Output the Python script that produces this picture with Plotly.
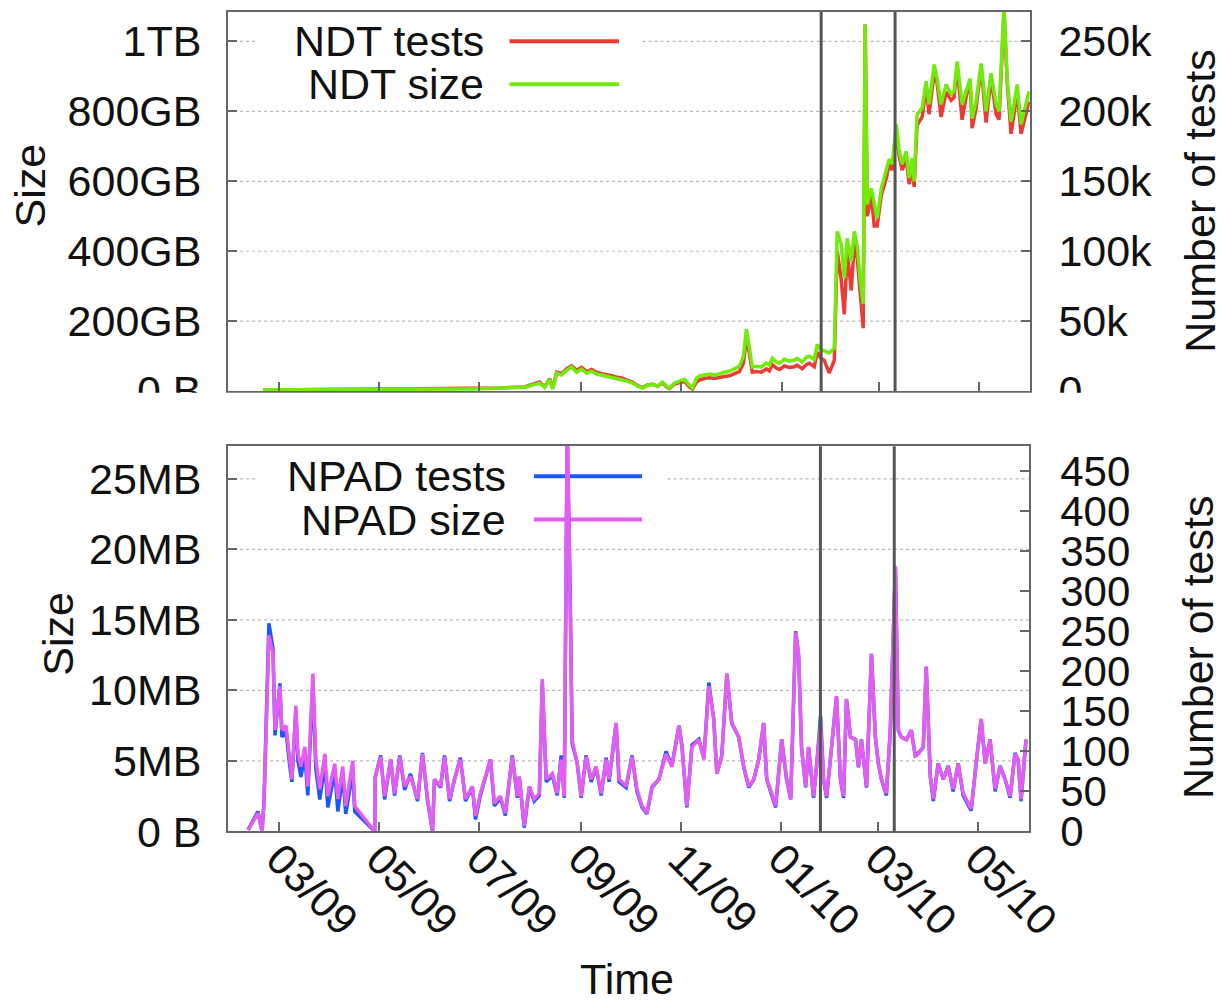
import pandas as pd
import plotly.graph_objects as go

BASE = pd.Timestamp("2009-03-01")

# ---------------- NDT (top panel) ----------------
ndt_day = [
    -9.7, 6.7, 24.9, 43.2, 61.4, 79.6, 97.9, 116.1, 134.3, 149.5,
    158.7, 161.7, 164.7, 166.6, 169.0, 172.0, 175.1, 178.1, 181.2, 184.2,
    187.2, 190.3, 193.3, 196.4, 199.4, 202.4, 205.5, 208.5, 211.6, 215.2,
    218.2, 221.3, 224.3, 227.4, 230.4, 233.4, 235.9, 237.7, 240.7, 243.8,
    246.8, 249.8, 251.7, 254.1, 255.9, 259.0, 262.0, 265.0, 268.1, 271.1,
    274.2, 277.2, 280.2, 282.7, 284.5, 286.3, 288.1, 290.6, 293.6, 296.7,
    298.5, 300.3, 302.7, 304.6, 307.6, 310.6, 313.7, 315.5, 318.5, 321.0,
    322.8, 325.8, 327.7, 329.5, 331.9, 334.9, 338.0, 339.8, 342.2, 344.1,
    345.9, 348.3, 350.2, 352.0, 353.8, 355.6, 356.8, 358.1, 360.5, 362.3,
    364.1, 366.6, 369.6, 371.4, 373.3, 375.7, 377.5, 379.3, 381.8, 383.6,
    385.4, 386.6, 388.4, 391.5, 393.9, 395.7, 398.8, 400.6, 403.0, 406.1,
    409.1, 410.9, 412.8, 415.8, 418.2, 420.7, 421.9, 424.3, 427.4, 430.4,
    433.4, 436.5, 438.3, 441.3, 443.2, 445.6, 447.4, 449.3, 451.7, 453.5,
    456.5,
]
ndt_size_gb = [
    3, 5, 5, 5, 6, 6, 6, 6, 9, 11,
    23, 11, 34, 6, 51, 46, 60, 69, 54, 63,
    51, 57, 49, 46, 43, 40, 37, 34, 29, 23,
    14, 9, 17, 20, 14, 26, 14, 9, 23, 29,
    34, 17, 9, 37, 43, 46, 49, 46, 51, 54,
    57, 63, 71, 100, 177, 123, 69, 71, 69, 80,
    74, 94, 83, 80, 91, 86, 89, 94, 83, 97,
    100, 91, 134, 120, 114, 109, 123, 457, 420, 323,
    437, 371, 457, 414, 320, 249, 1048, 534, 580, 534,
    494, 580, 629, 663, 649, 763, 686, 649, 686, 609,
    666, 600, 791, 809, 886, 820, 934, 894, 820, 877,
    849, 857, 943, 820, 857, 894, 780, 829, 937, 800,
    909, 820, 800, 1100, 894, 771, 820, 877, 763, 800,
    857,
]
ndt_tests_k = [
    0.7, 1.2, 1.2, 1.3, 1.5, 1.5, 1.6, 1.6, 2.3, 3.0,
    6.5, 3.2, 9.0, 2.0, 13.5, 12.5, 16.0, 18.0, 15.0, 17.0,
    14.0, 15.5, 13.5, 12.5, 12.0, 11.0, 10.0, 9.5, 8.0, 6.5,
    4.0, 2.5, 4.5, 5.0, 3.5, 6.0, 3.0, 2.0, 5.0, 6.0,
    7.0, 3.0, 1.5, 6.5, 8.0, 9.0, 9.5, 9.0, 10.0, 10.5,
    11.0, 12.5, 14.0, 20.0, 38.0, 27.0, 13.5, 14.0, 13.5, 16.0,
    14.5, 19.0, 16.5, 15.5, 18.0, 17.0, 17.5, 18.5, 16.0, 19.0,
    20.0, 17.5, 28.0, 24.0, 22.0, 13.0, 22.0, 100, 80, 55,
    100, 72, 105, 95, 72, 45, 262, 125, 140, 118,
    118, 140, 152, 162, 158, 185, 168, 158, 166, 148,
    162, 146, 190, 196, 218, 198, 228, 220, 196, 214,
    208, 210, 232, 194, 210, 222, 188, 202, 232, 192,
    224, 198, 194, 272, 222, 184, 198, 214, 184, 192,
    207,
]

# ---------------- NPAD (bottom panel) ----------------
npad_day = [
    -18.8, -12.8, -10.3, -9.1, -6.1, -3.6, -2.4, 0.6, 1.8, 4.3,
    6.7, 7.9, 10.3, 11.6, 13.4, 15.8, 17.6, 20.7, 22.5, 24.9,
    28.0, 29.8, 34.0, 35.9, 38.9, 40.7, 45.0, 46.2, 58.4, 58.7,
    62.0, 64.4, 68.1, 70.5, 73.6, 76.6, 80.2, 84.5, 87.5, 90.6,
    93.6, 94.8, 98.5, 100.9, 104.0, 107.0, 110.6, 113.7, 117.9, 119.8,
    122.8, 128.9, 131.3, 135.0, 138.0, 142.2, 145.3, 146.5, 149.5, 152.6,
    155.6, 158.7, 160.5, 162.9, 166.6, 169.6, 172.0, 173.9, 175.7, 177.5,
    178.7, 181.8, 184.2, 187.2, 190.3, 193.3, 196.4, 199.4, 201.2, 205.5,
    207.3, 211.6, 215.2, 218.2, 221.3, 224.3, 227.4, 231.6, 235.9, 239.5,
    243.8, 245.6, 248.6, 251.7, 255.9, 259.0, 262.0, 265.0, 266.9, 269.9,
    273.0, 276.0, 280.2, 283.3, 286.3, 289.4, 292.4, 295.4, 297.3, 300.3,
    302.7, 306.4, 309.4, 311.9, 314.9, 316.7, 318.5, 321.0, 322.8, 325.8,
    327.7, 330.1, 331.9, 333.8, 336.8, 339.8, 342.2, 344.1, 345.9, 348.3,
    351.4, 353.2, 355.0, 358.1, 361.1, 363.5, 365.3, 367.2, 370.2, 372.6,
    375.7, 377.5, 379.3, 382.4, 385.4, 387.8, 389.7, 392.7, 394.5, 397.0,
    398.8, 401.8, 404.9, 407.9, 410.9, 414.0, 417.0, 420.1, 421.9, 424.9,
    428.0, 430.4, 433.4, 436.5, 439.5, 442.6, 445.6, 448.6, 450.5, 452.3,
    455.3,
]
npad_size_mb = [
    0.1, 1.3, 0.0, 2.0, 13.9, 12.6, 7.2, 10.3, 7.2, 7.5,
    5.0, 3.7, 8.9, 5.5, 4.6, 6.0, 3.2, 11.2, 5.1, 3.0,
    5.5, 2.5, 4.8, 2.3, 4.6, 1.8, 5.0, 1.8, 0.0, 3.9,
    5.3, 2.5, 5.1, 2.7, 5.3, 3.2, 3.9, 2.3, 5.5, 2.3,
    0.0, 3.7, 3.2, 5.3, 2.3, 3.7, 5.1, 2.3, 3.2, 1.1,
    2.7, 5.1, 2.0, 2.5, 1.3, 5.3, 2.5, 3.9, 0.4, 3.2,
    2.3, 2.7, 10.8, 3.7, 4.1, 2.7, 5.1, 2.5, 30.0, 17.5,
    6.5, 4.8, 2.5, 5.3, 3.7, 4.6, 2.7, 5.1, 3.7, 7.7,
    3.7, 3.2, 5.3, 3.0, 1.8, 1.3, 3.2, 3.7, 5.5, 4.6,
    7.5, 6.0, 1.8, 6.0, 6.5, 5.1, 10.3, 8.0, 4.1, 5.3,
    11.2, 7.7, 6.7, 4.6, 3.2, 3.7, 5.1, 7.7, 3.7, 2.7,
    1.8, 6.5, 3.7, 2.3, 14.1, 12.6, 6.0, 3.2, 6.0, 2.5,
    4.6, 7.6, 3.7, 2.5, 6.0, 9.6, 3.7, 2.5, 9.4, 6.7,
    6.5, 4.6, 6.5, 3.2, 12.6, 6.7, 4.8, 3.7, 2.7, 7.2,
    18.8, 7.2, 6.7, 6.5, 7.2, 5.3, 5.5, 6.0, 11.7, 3.9,
    2.3, 4.8, 3.7, 4.6, 3.0, 4.8, 2.7, 2.0, 1.6, 4.8,
    8.0, 4.8, 6.5, 3.0, 4.6, 3.7, 2.5, 5.5, 5.1, 2.3,
    6.5,
]
npad_tests = [
    2, 25, 0, 38, 260, 228, 120, 185, 118, 125,
    80, 62, 150, 88, 68, 95, 45, 185, 78, 40,
    85, 30, 75, 25, 70, 22, 75, 25, 0, 68,
    95, 40, 90, 45, 95, 52, 72, 38, 98, 38,
    0, 65, 55, 95, 38, 65, 92, 38, 55, 15,
    45, 90, 32, 42, 20, 95, 42, 68, 5, 55,
    38, 45, 185, 62, 70, 45, 95, 42, 490, 300,
    110, 85, 42, 95, 62, 80, 45, 92, 62, 135,
    62, 55, 95, 50, 30, 22, 55, 65, 100, 82,
    132, 108, 30, 108, 115, 92, 186, 140, 72, 95,
    196, 135, 118, 80, 55, 65, 90, 135, 65, 45,
    30, 115, 65, 40, 250, 220, 105, 55, 105, 42,
    82, 145, 65, 42, 105, 168, 65, 42, 165, 118,
    115, 80, 115, 55, 222, 118, 85, 65, 45, 126,
    330, 126, 118, 115, 126, 95, 98, 105, 205, 68,
    38, 85, 65, 82, 50, 85, 45, 32, 26, 85,
    140, 85, 115, 50, 82, 65, 42, 98, 90, 38,
    115,
]

# ---------------- axes / labels ----------------
x_tick_dates = ["2009-03-01", "2009-05-01", "2009-07-01", "2009-09-01",
                "2009-11-01", "2010-01-01", "2010-03-01", "2010-05-01"]
x_tick_text = ["03/09", "05/09", "07/09", "09/09", "11/09", "01/10", "03/10", "05/10"]
x_range = ["2009-01-29", "2010-06-01"]
event_dates = ["2010-01-25", "2010-03-11"]

ndt_size_ticks = [0, 200, 400, 600, 800, 1000]
ndt_size_text = ["0 B", "200GB", "400GB", "600GB", "800GB", "1TB"]
ndt_test_ticks = [0, 50, 100, 150, 200, 250]
ndt_test_text = ["0", "50k", "100k", "150k", "200k", "250k"]
npad_size_ticks = [0, 5, 10, 15, 20, 25]
npad_size_text = ["0 B", "5MB", "10MB", "15MB", "20MB", "25MB"]
npad_test_ticks = [0, 50, 100, 150, 200, 250, 300, 350, 400, 450]

RED = "#ec3b35"
GREEN = "#72ea0c"
BLUE = "#1d58f5"
VIOLET = "#e35df2"

# target picture size, and the page size that the viewer shrinks onto it
REF_W, REF_H = 1227, 1003
W, H = 1260, 1030
FONT = "Liberation Sans, Arial, sans-serif"
FS = 43
FRAME = "#666666"
GRID = "#b8b8b8"

ndt_x = BASE + pd.to_timedelta(ndt_day, unit="D")
npad_x = BASE + pd.to_timedelta(npad_day, unit="D")


def px(v):
    return v / REF_W


def py(v):
    return 1 - v / REF_H


top_dom_x = [px(229), px(1034)]
top_dom_y = [py(390), py(12)]
bot_dom_x = [px(229), px(1033)]
bot_dom_y = [py(829), py(445)]

fig = go.Figure()

# tests (base axes, right side) drawn first, sizes (overlay axes) on top
fig.add_trace(go.Scatter(x=ndt_x, y=ndt_tests_k, mode="lines", line=dict(color=RED, width=3.5),
                         xaxis="x", yaxis="y", showlegend=False, name="NDT tests"))
fig.add_trace(go.Scatter(x=ndt_x, y=ndt_size_gb, mode="lines", line=dict(color=GREEN, width=3.5),
                         xaxis="x", yaxis="y2", showlegend=False, name="NDT size"))
fig.add_trace(go.Scatter(x=npad_x, y=npad_tests, mode="lines", line=dict(color=BLUE, width=3.5),
                         xaxis="x2", yaxis="y3", showlegend=False, name="NPAD tests"))
fig.add_trace(go.Scatter(x=npad_x, y=npad_size_mb, mode="lines", line=dict(color=VIOLET, width=3.5),
                         xaxis="x2", yaxis="y4", showlegend=False, name="NPAD size"))

tickfont = dict(family=FONT, size=FS, color="#111111")
common_axis = dict(showline=True, linecolor=FRAME, linewidth=2, ticks="inside", ticklen=9,
                   tickcolor=FRAME, tickwidth=1.5, tickfont=tickfont, zeroline=False, showgrid=False)

xcommon = dict(common_axis, type="date", range=x_range, tickvals=x_tick_dates, ticktext=x_tick_text,
               mirror=True)

fig.update_layout(
    width=W, height=H,
    margin=dict(l=0, r=0, t=0, b=0),
    paper_bgcolor="white", plot_bgcolor="white",
    font=dict(family=FONT, size=FS, color="#111111"),
    xaxis=dict(xcommon, domain=top_dom_x, anchor="y", showticklabels=False),
    yaxis=dict(common_axis, domain=top_dom_y, anchor="x", side="right", range=[0, 271],
               tickvals=ndt_test_ticks, ticktext=ndt_test_text, ticklabelstandoff=18),
    yaxis2=dict(common_axis, overlaying="y", anchor="x", side="left", range=[0, 1084],
                tickvals=ndt_size_ticks, ticktext=ndt_size_text, ticklabelstandoff=16),
    xaxis2=dict(xcommon, domain=bot_dom_x, anchor="y3", tickangle=45, ticklabelstandoff=-17),
    yaxis3=dict(common_axis, domain=bot_dom_y, anchor="x2", side="right", range=[0, 481],
                tickvals=npad_test_ticks, ticklabelstandoff=21,
                tickfont=dict(family=FONT, size=42, color="#111111")),
    yaxis4=dict(common_axis, overlaying="y3", anchor="x2", side="left", range=[0, 27.3],
                tickvals=npad_size_ticks, ticktext=npad_size_text, ticklabelstandoff=16),
)

shapes = []
grid_line = dict(color=GRID, width=1.2, dash="dot")
# dotted grid from the size axes; the key box interrupts the top grid line
for v in ndt_size_ticks[1:-1]:
    shapes.append(dict(type="line", xref="x domain", yref="y2", x0=0, x1=1, y0=v, y1=v,
                       line=grid_line, layer="below"))
for a, b in [(0, 0.036), (0.517, 1)]:
    shapes.append(dict(type="line", xref="x domain", yref="y2", x0=a, x1=b,
                       y0=ndt_size_ticks[-1], y1=ndt_size_ticks[-1], line=grid_line, layer="below"))
for v in npad_size_ticks[1:-1]:
    shapes.append(dict(type="line", xref="x2 domain", yref="y4", x0=0, x1=1, y0=v, y1=v,
                       line=grid_line, layer="below"))
for a, b in [(0, 0.034), (0.549, 1)]:
    shapes.append(dict(type="line", xref="x2 domain", yref="y4", x0=a, x1=b,
                       y0=npad_size_ticks[-1], y1=npad_size_ticks[-1], line=grid_line, layer="below"))

# legend samples
legend_items = [("x domain", "y domain", 0.351, 0.4876, 0.923, RED),
                ("x domain", "y domain", 0.351, 0.4876, 0.8095, GREEN),
                ("x2 domain", "y3 domain", 0.382, 0.517, 0.922, BLUE),
                ("x2 domain", "y3 domain", 0.382, 0.517, 0.810, VIOLET)]
for xr, yr, a, b, yy, c in legend_items:
    shapes.append(dict(type="line", xref=xr, yref=yr, x0=a, x1=b, y0=yy, y1=yy,
                       line=dict(color=c, width=4), layer="below"))
# event lines
for d in event_dates:
    shapes.append(dict(type="line", xref="x", yref="y domain", x0=d, x1=d, y0=0, y1=1,
                       line=dict(color="#555555", width=3), layer="above"))
    shapes.append(dict(type="line", xref="x2", yref="y3 domain", x0=d, x1=d, y0=0, y1=1,
                       line=dict(color="#555555", width=3), layer="above"))
# crop below the top panel (the original picture is cut there)
shapes.append(dict(type="rect", xref="paper", yref="paper", x0=0, x1=1, y0=py(430), y1=py(391.5),
                   fillcolor="white", line=dict(width=0), layer="above"))
fig.update_layout(shapes=shapes)

ann = []


def text(x, y, s, anchor="center", angle=0):
    ann.append(dict(x=px(x), y=py(y), xref="paper", yref="paper", text=s, showarrow=False,
                    xanchor=anchor, yanchor="middle", textangle=angle,
                    font=dict(family=FONT, size=FS, color="#111111")))


text(488, 41, "NDT tests", "right")
text(488, 84, "NDT size", "right")
text(510, 475, "NPAD tests", "right")
text(510, 518, "NPAD size", "right")
text(30, 185, "Size", angle=-90)
text(1205, 200, "Number of tests", angle=-90)
text(58, 632, "Size", angle=-90)
text(1203, 645, "Number of tests", angle=-90)
text(630, 976, "Time")
fig.update_layout(annotations=ann)

fig.write_html("out.html", config={"displayModeBar": False},
               post_script="document.body.style.margin='0';")
